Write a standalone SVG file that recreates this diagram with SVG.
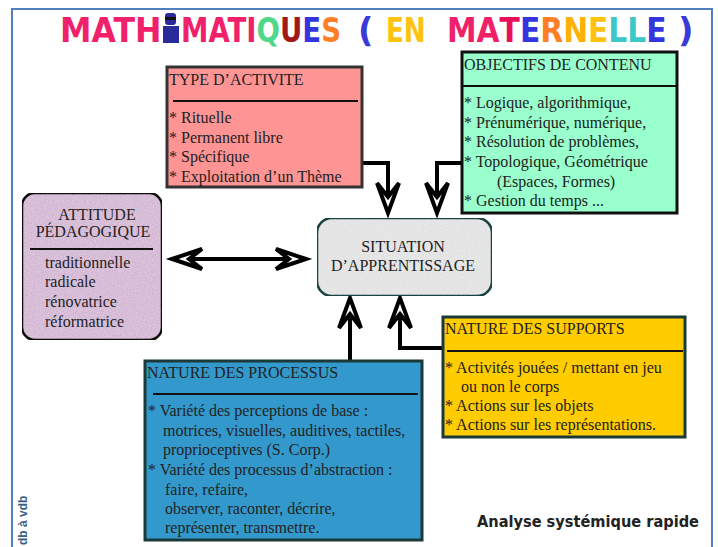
<svg xmlns="http://www.w3.org/2000/svg" width="718" height="547" viewBox="0 0 718 547">
<defs>
<filter id="grain" x="0" y="0" width="100%" height="100%">
<feTurbulence type="fractalNoise" baseFrequency="0.9" numOctaves="2" seed="3" result="n"/>
<feColorMatrix in="n" type="matrix" values="0 0 0 0 0  0 0 0 0 0  0 0 0 0 0  0 0 0 -1.2 0.75" result="a"/>
<feComposite in="SourceGraphic" in2="a" operator="in" result="g"/>
<feBlend in="SourceGraphic" in2="g" mode="multiply"/>
</filter>
<style>
.t{font-family:"Liberation Serif","Times New Roman",serif;font-size:16px;fill:#222;}
.h{stroke:#111;stroke-width:2;}
.box{stroke-width:3;}
.ln{fill:none;stroke:#000;stroke-width:4;}
.ah{fill:#fff;stroke:#000;stroke-width:4;stroke-linejoin:miter;}
.ti{font-family:"DejaVu Sans","Liberation Sans",sans-serif;font-weight:bold;font-size:34px;}
</style>
</defs>
<rect width="718" height="547" fill="#fff"/>
<rect x="12" y="9" width="700" height="560" fill="none" stroke="#4F7FC0" stroke-width="2"/>

<g id="title">
<text class="ti" transform="translate(60,42) scale(0.93,1)" x="0" y="0" fill="#F0206A">MATH</text>
<g fill="#2A2A9A"><rect x="165" y="13" width="11" height="12" rx="3"/><rect x="163" y="26" width="16" height="17"/><rect x="165" y="17" width="11" height="3" fill="#111"/></g>
<text class="ti" transform="translate(181,42) scale(0.81,1)" x="0" y="0"><tspan fill="#F0206A">MATI</tspan><tspan fill="#4ED88A">Q</tspan><tspan fill="#A01818">U</tspan><tspan fill="#3535E0">E</tspan><tspan fill="#FF7F27">S</tspan></text>
<text class="ti" x="358" y="42" fill="#3A3AD8">(</text>
<text class="ti" transform="translate(386,42) scale(0.77,1)" x="0" y="0" fill="#FFC20E">EN</text>
<text class="ti" transform="translate(447,42) scale(0.875,1)" x="0" y="0"><tspan fill="#F0206A">MA</tspan><tspan fill="#E8105A">T</tspan><tspan fill="#3535E0">E</tspan><tspan fill="#FF7F27">R</tspan><tspan fill="#FFB000">N</tspan><tspan fill="#FFC20E">E</tspan><tspan fill="#3CC8C8">LL</tspan><tspan fill="#3535E0">E</tspan></text>
<text class="ti" x="678" y="42" fill="#3A3AD8">)</text>
</g>

<g id="connectors">
<path class="ln" d="M362,163 H388 V197"/>
<polygon class="ah" points="388,213 377,183 388,197 399,183"/>
<path class="ln" d="M462,163 H437 V197"/>
<polygon class="ah" points="437,213 426,183 437,197 448,183"/>
<path class="ln" d="M350,361 V314"/>
<polygon class="ah" points="350,298 339,328 350,314 361,328"/>
<path class="ln" d="M443,348 H400 V314"/>
<polygon class="ah" points="400,298 389,328 400,314 411,328"/>
<path class="ln" d="M188,259 H291"/>
<polygon class="ah" points="172,259 202,249 189,259 202,269"/>
<polygon class="ah" points="306,259 276,249 289,259 276,269"/>
</g>

<g id="type-activite">
<rect class="box" x="167" y="67" width="195" height="120" fill="#FF9494" stroke="#333"/>
<text class="t" x="169" y="85">TYPE D’ACTIVITE</text>
<line class="h" x1="173" y1="101" x2="358" y2="101"/>
<text class="t" x="169" y="123">* Rituelle</text>
<text class="t" x="169" y="143">* Permanent libre</text>
<text class="t" x="169" y="162">* Spécifique</text>
<text class="t" x="169" y="182">* Exploitation d’un Thème</text>
</g>

<g id="objectifs-contenu">
<rect class="box" x="462" y="52" width="215" height="161" fill="#99FFCC" stroke="#111"/>
<text class="t" x="464" y="70">OBJECTIFS DE CONTENU</text>
<line class="h" x1="462" y1="86" x2="677" y2="86"/>
<text class="t" x="464" y="108">* Logique, algorithmique,</text>
<text class="t" x="464" y="128">* Prénumérique, numérique,</text>
<text class="t" x="464" y="147">* Résolution de problèmes,</text>
<text class="t" x="464" y="167">* Topologique, Géométrique</text>
<text class="t" x="497" y="187">(Espaces, Formes)</text>
<text class="t" x="464" y="206">* Gestion du temps ...</text>
</g>

<g id="attitude-pedagogique">
<rect x="22" y="193" width="140" height="147" rx="13" fill="#DCC4DC" stroke="#111" stroke-width="2.5" filter="url(#grain)"/>
<text class="t" x="97" y="220" text-anchor="middle">ATTITUDE</text>
<text class="t" x="93" y="237" text-anchor="middle">PÉDAGOGIQUE</text>
<line class="h" x1="30" y1="249" x2="153" y2="249"/>
<text class="t" x="45" y="268">traditionnelle</text>
<text class="t" x="45" y="287">radicale</text>
<text class="t" x="45" y="307">rénovatrice</text>
<text class="t" x="45" y="327">réformatrice</text>
</g>

<g id="situation-apprentissage">
<rect x="317" y="218" width="175" height="78" rx="15" fill="#E8E8E8" stroke="#1E4A48" stroke-width="2.5" filter="url(#grain)"/>
<text class="t" x="403" y="252" text-anchor="middle" fill="#333">SITUATION</text>
<text class="t" x="403" y="271" text-anchor="middle" fill="#333">D’APPRENTISSAGE</text>
</g>

<g id="nature-processus">
<rect class="box" x="145" y="361" width="277" height="179" fill="#3399CC" stroke="#1A3A3A"/>
<text class="t" x="147" y="378">NATURE DES PROCESSUS</text>
<line class="h" x1="153" y1="394" x2="418" y2="394"/>
<text class="t" x="148" y="416">* Variété des perceptions de base :</text>
<text class="t" x="163" y="436">motrices, visuelles, auditives, tactiles,</text>
<text class="t" x="163" y="455">proprioceptives (S. Corp.)</text>
<text class="t" x="148" y="475">* Variété des processus d’abstraction :</text>
<text class="t" x="165" y="495">faire, refaire,</text>
<text class="t" x="165" y="514">observer, raconter, décrire,</text>
<text class="t" x="165" y="533">représenter, transmettre.</text>
</g>

<g id="nature-supports">
<rect class="box" x="443" y="317" width="242" height="120" fill="#FFCC00" stroke="#1A3A3A"/>
<text class="t" x="445" y="334">NATURE DES SUPPORTS</text>
<line class="h" x1="447" y1="351" x2="683" y2="351"/>
<text class="t" x="445" y="373">* Activités jouées / mettant en jeu</text>
<text class="t" x="461" y="392">ou non le corps</text>
<text class="t" x="445" y="411">* Actions sur les objets</text>
<text class="t" x="445" y="430">* Actions sur les représentations.</text>
</g>

<text x="477" y="527" font-family="'Comic Sans MS','DejaVu Sans',sans-serif" font-weight="bold" font-size="15" fill="#222" textLength="222" lengthAdjust="spacingAndGlyphs">Analyse systémique rapide</text>
<text transform="translate(27,545) rotate(-90)" font-family="'Liberation Sans',Arial,sans-serif" font-weight="bold" font-size="12" fill="#3A5F8A">db à vdb</text>
</svg>
